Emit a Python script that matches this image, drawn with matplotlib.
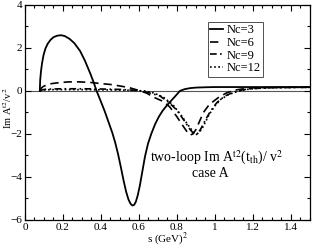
import numpy as np
import matplotlib
matplotlib.use('Agg')
import matplotlib.pyplot as plt
from matplotlib.ticker import MultipleLocator

plt.rcParams['font.family'] = ['Liberation Serif', 'DejaVu Serif']
plt.rcParams['mathtext.fontset'] = 'stix'

# Nc=3
s3 = [0.078, 0.080, 0.084, 0.090, 0.098, 0.108, 0.12, 0.135, 0.15, 0.17, 0.19, 0.21, 0.235, 0.26,
      0.29, 0.315, 0.342, 0.36, 0.377, 0.40, 0.42, 0.44, 0.46, 0.475, 0.49, 0.505, 0.52, 0.533,
      0.545, 0.556, 0.566, 0.575, 0.584, 0.594, 0.605, 0.618, 0.632, 0.648, 0.665, 0.685, 0.705,
      0.725, 0.745, 0.765, 0.79, 0.816, 0.84, 0.87, 0.9, 0.95, 1.0, 1.1, 1.2, 1.3, 1.4, 1.5]
y3 = [0.0, 0.5, 0.9, 1.3, 1.68, 1.98, 2.2, 2.38, 2.5, 2.57, 2.59, 2.55, 2.42, 2.22,
      1.86, 1.42, 0.85, 0.44, 0.0, -0.5, -0.95, -1.45, -1.95, -2.4, -2.93, -3.55, -4.2, -4.7,
      -5.05, -5.25, -5.33, -5.3, -5.15, -4.85, -4.4, -3.75, -3.05, -2.45, -2.0, -1.55, -1.2,
      -0.92, -0.7, -0.5, -0.26, 0.0, 0.08, 0.13, 0.155, 0.17, 0.18, 0.18, 0.18, 0.18, 0.18, 0.18]

# Nc=6
s6 = [0.078, 0.085, 0.095, 0.114, 0.14, 0.184, 0.23, 0.29, 0.35, 0.40, 0.45, 0.50, 0.55, 0.60,
      0.64, 0.68, 0.73, 0.763, 0.80, 0.83, 0.855, 0.87, 0.885, 0.90, 0.92, 0.94, 0.965, 0.99,
      1.02, 1.06, 1.1, 1.15, 1.2, 1.3, 1.4, 1.5]
y6 = [0.0, 0.12, 0.2, 0.28, 0.34, 0.39, 0.42, 0.42, 0.39, 0.34, 0.3, 0.23, 0.15, 0.02,
      -0.1, -0.3, -0.5, -0.75, -1.2, -1.6, -1.92, -2.05, -2.0, -1.8, -1.4, -1.0, -0.7, -0.5,
      -0.3, -0.1, 0.03, 0.1, 0.14, 0.16, 0.17, 0.17]

# Nc=9
s9 = [0.078, 0.09, 0.11, 0.15, 0.2, 0.3, 0.4, 0.5, 0.56, 0.605, 0.65, 0.71, 0.76, 0.8, 0.84,
      0.87, 0.895, 0.91, 0.93, 0.95, 0.98, 1.01, 1.05, 1.1, 1.15, 1.2, 1.3, 1.4, 1.5]
y9 = [0.0, 0.05, 0.08, 0.09, 0.1, 0.1, 0.09, 0.07, 0.04, 0.0, -0.08, -0.23, -0.55, -0.9, -1.4,
      -1.8, -2.05, -2.0, -1.7, -1.35, -0.9, -0.55, -0.25, -0.05, 0.06, 0.11, 0.15, 0.16, 0.17]

# Nc=12
s12 = [0.078, 0.09, 0.11, 0.15, 0.2, 0.3, 0.4, 0.5, 0.58, 0.63, 0.68, 0.73, 0.78, 0.82, 0.86,
       0.89, 0.91, 0.93, 0.95, 0.97, 1.0, 1.03, 1.07, 1.12, 1.17, 1.22, 1.3, 1.4, 1.5]
y12 = [0.0, 0.03, 0.05, 0.06, 0.06, 0.06, 0.05, 0.04, 0.02, 0.0, -0.1, -0.3, -0.65, -1.1, -1.6,
       -1.95, -1.98, -1.8, -1.45, -1.1, -0.7, -0.4, -0.18, -0.02, 0.07, 0.12, 0.15, 0.16, 0.17]

xticks = [0, 0.2, 0.4, 0.6, 0.8, 1.0, 1.2, 1.4]
xticklabels = ['0', '0.2', '0.4', '0.6', '0.8', '1', '1.2', '1.4']

fig = plt.figure(figsize=(3.14, 2.46), dpi=100)
ax = fig.add_axes([0.0796, 0.106, 0.907, 0.874])

ax.axhline(0, color='#555555', lw=0.8, zorder=1)
ax.plot(s3, y3, color='k', lw=1.3, label='Nc=3')
ax.plot(s6, y6, color='k', lw=1.2, ls=(0, (5, 3)), label='Nc=6')
ax.plot(s9, y9, color='k', lw=1.2, ls=(0, (4, 2, 1, 2)), label='Nc=9')
ax.plot(s12, y12, color='k', lw=1.2, ls=(0, (1, 1.5)), label='Nc=12')

ax.set_xlim(0, 1.5)
ax.set_ylim(-6, 4)
ax.xaxis.set_minor_locator(MultipleLocator(0.05))
ax.yaxis.set_major_locator(MultipleLocator(2))
ax.yaxis.set_minor_locator(MultipleLocator(1))
ax.tick_params(which='both', direction='in', top=True, right=True, labelsize=8, width=0.8, pad=2)
ax.tick_params(which='major', length=4)
ax.tick_params(which='minor', length=2)
ax.set_xticks(xticks)
ax.set_xticklabels(xticklabels)
for sp in ax.spines.values():
    sp.set_linewidth(0.9)

ax.set_xlabel('s (GeV)$^2$', fontsize=8)
ax.xaxis.set_label_coords(0.5, -0.05)
ax.set_ylabel(r'Im A$^{\mathrm{t2}}$/v$^2$', fontsize=7.5)
ax.yaxis.set_label_coords(-0.039, 0.52)

leg = ax.legend(loc='upper left', bbox_to_anchor=(0.642, 0.921), fontsize=9, frameon=True,
                fancybox=False, edgecolor='k', handlelength=1.0, handletextpad=0.3,
                borderpad=0.2, labelspacing=0.05, borderaxespad=0)
leg.get_frame().set_linewidth(0.6)

ax.text(1.01, -3.12, r'two-loop Im A$^{\mathrm{t2}}$(t$_{\mathrm{th}}$)/ v$^2$', fontsize=10,
        ha='center', va='center')
ax.text(0.975, -3.85, 'case A', fontsize=10, ha='center', va='center')

fig.savefig('out.png', dpi=100)
